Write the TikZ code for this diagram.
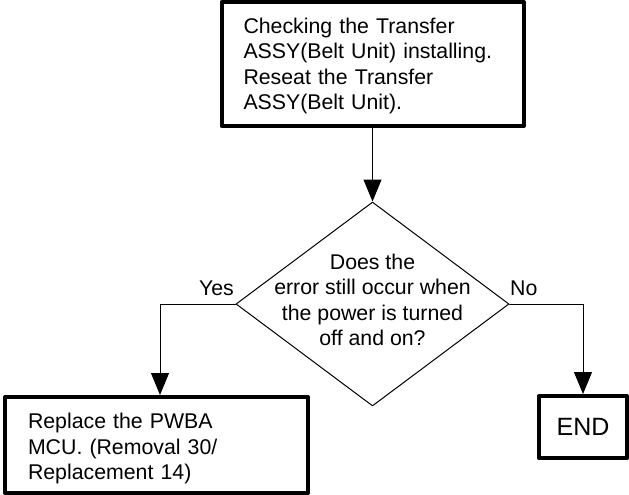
\documentclass[tikz,border=0pt]{standalone}
\usepackage{fontspec}
\setmainfont{Liberation Sans}
\usetikzlibrary{shapes.geometric,arrows.meta}

\begin{document}
\begin{tikzpicture}[x=1pt, y=-1pt, line cap=round, line join=round,
    every node/.style={font=\fontsize{21.3}{25.5}\selectfont},
    box/.style={draw, rectangle, line width=4pt, inner sep=0pt, align=left},
    notebox/.style={box, execute at begin node={\rule{0pt}{#1}}},
    flow/.style={-{Triangle[width=18pt, length=22pt]}, line width=1pt},
    lbl/.style={inner sep=0pt}]

\useasboundingbox (0,0) rectangle (629,495);

% Controllo iniziale
\node[notebox=19.5pt, minimum width=302pt, minimum height=124pt, text width=258pt] (check) at (372.5,64)
    {Checking the Transfer\\ASSY(Belt Unit) installing.\\Reseat the Transfer\\ASSY(Belt Unit).};

% Domanda
\node[draw, diamond, line width=1pt, inner sep=0pt, minimum width=273pt, minimum height=204pt] (ask) at (372.5,304) {};
\node[align=center, inner sep=0pt] (asktext) at (372.5,300)
    {Does the\\error still occur when\\the power is turned\\off and on?};

% Esiti
\node[notebox=22.5pt, minimum width=303pt, minimum height=96pt, text width=257pt] (replace) at (156.5,445)
    {Replace the PWBA\\MCU. (Removal 30/\\Replacement 14)};
\node[box, minimum width=88pt, minimum height=62pt, align=center, font=\fontsize{25}{30}\selectfont] (stop) at (583,427) {END};

% Frecce
\coordinate (yesturn) at (160,304);
\draw[flow] (check.south) -- (ask.north);
\draw[flow] (ask.west) -- (yesturn) -- (yesturn |- replace.north);
\draw[flow] (ask.east) -| (stop.north);

% Etichette
\node[lbl, anchor=base east] (yes) at (234,295) {Yes};
\node[lbl, anchor=base west] (no) at (510,295) {No};

\end{tikzpicture}
\end{document}
